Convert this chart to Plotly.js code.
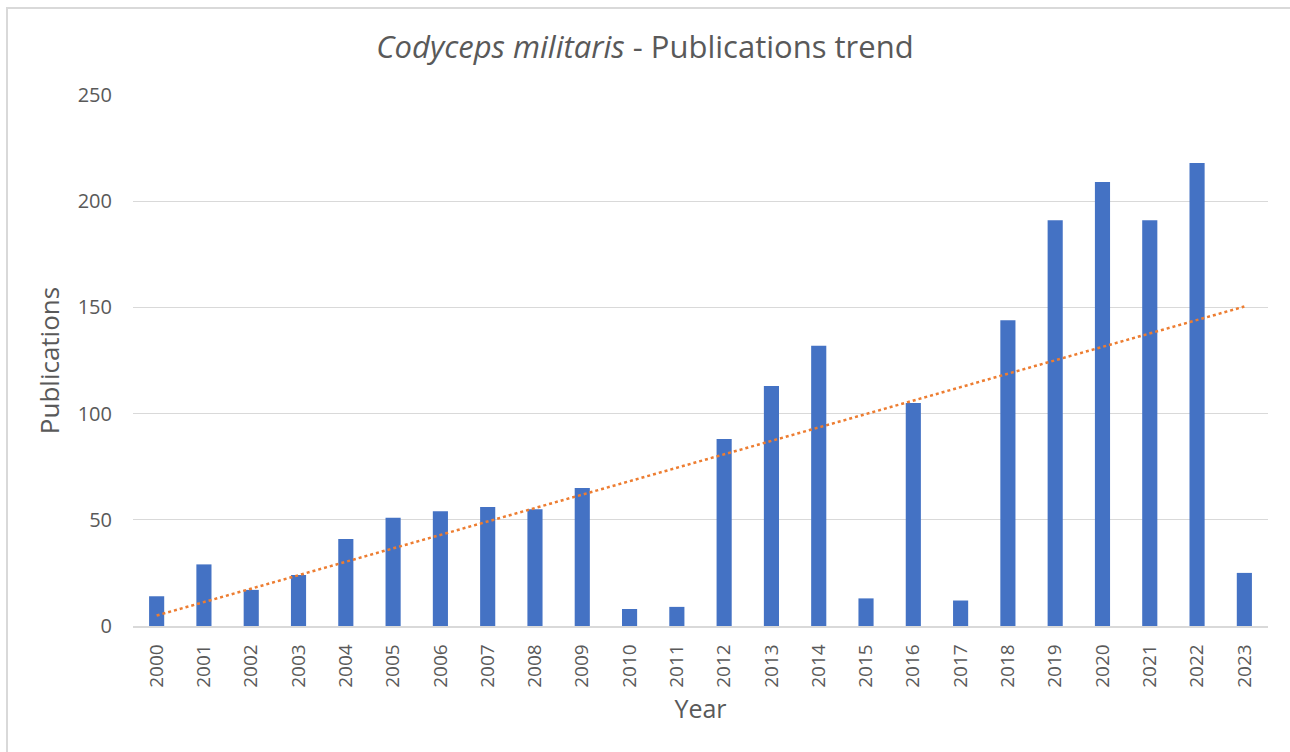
<!DOCTYPE html>
<html>
<head>
<meta charset="utf-8">
<script src="https://cdn.plot.ly/plotly-3.0.1.min.js"></script>
<style>
  html, body { margin: 0; padding: 0; background: #fff; overflow: hidden; }
  #wrap { position: relative; width: 1290px; height: 752px; overflow: hidden; }
  #chart { width: 1290px; height: 752px; }
  #frame { position: absolute; left: 6px; top: 7px; width: 1300px; height: 800px;
           border-left: 2px solid #d9d9d9; border-top: 2px solid #d9d9d9; pointer-events: none; }
</style>
</head>
<body>
<div id="wrap">
  <div id="chart"></div>
  <div id="frame"></div>
</div>
<script>
const years = ["2000","2001","2002","2003","2004","2005","2006","2007","2008","2009","2010","2011",
               "2012","2013","2014","2015","2016","2017","2018","2019","2020","2021","2022","2023"];
const publications = [14,29,17,24,41,51,54,56,55,65,8,9,88,113,132,13,105,12,144,191,209,191,218,25];
const yTicks = [0,50,100,150,200,250];

// Linear trendline (least squares), as Excel's linear trendline
const n = publications.length;
const idx = publications.map((_, i) => i + 1);
const mx = idx.reduce((a, b) => a + b, 0) / n;
const my = publications.reduce((a, b) => a + b, 0) / n;
let sxy = 0, sxx = 0;
for (let i = 0; i < n; i++) { sxy += (idx[i] - mx) * (publications[i] - my); sxx += (idx[i] - mx) ** 2; }
const slope = sxy / sxx, icpt = my - slope * mx;
const trend = idx.map(x => icpt + slope * x);

const font = "Open Sans, sans-serif";
const grey = "#595959";

const data = [
  { type: "bar", x: years, y: publications, marker: { color: "#4472c4" }, hoverinfo: "x+y", name: "Publications" },
  { type: "scatter", mode: "lines", x: years, y: trend,
    line: { color: "#ed7d31", width: 2.5, dash: "dot" }, name: "Linear trend", hoverinfo: "skip" }
];

const layout = {
  width: 1290, height: 752,
  margin: { l: 133, r: 22, t: 95, b: 126 },
  paper_bgcolor: "#fff", plot_bgcolor: "#fff",
  showlegend: false,
  bargap: 0.68,
  font: { family: font, color: grey },
  title: { text: "<i>Codyceps militaris</i> - Publications trend",
           font: { family: font, size: 31, color: grey },
           x: 0.5, xanchor: "center", y: 1 - 47/752, yanchor: "middle", yref: "container" },
  xaxis: {
    type: "category",
    tickangle: -90,
    tickfont: { size: 19, color: grey },
    showline: true, linecolor: "#d9d9d9", linewidth: 1.5,
    showgrid: false, ticks: "",
    ticklabelstandoff: 9,
    title: { text: "Year", font: { size: 25, color: grey }, standoff: 14 },
    automargin: false
  },
  yaxis: {
    range: [0, 250],
    tickvals: yTicks,
    tickfont: { size: 20, color: grey },
    gridcolor: "#d9d9d9", gridwidth: 1.3,
    zeroline: false, showline: false, ticks: "",
    ticklabelstandoff: 20,
    title: { text: "Publications", font: { size: 26, color: grey }, standoff: 10 },
    automargin: false
  }
};

Plotly.newPlot("chart", data, layout, { displayModeBar: false });
</script>
</body>
</html>
